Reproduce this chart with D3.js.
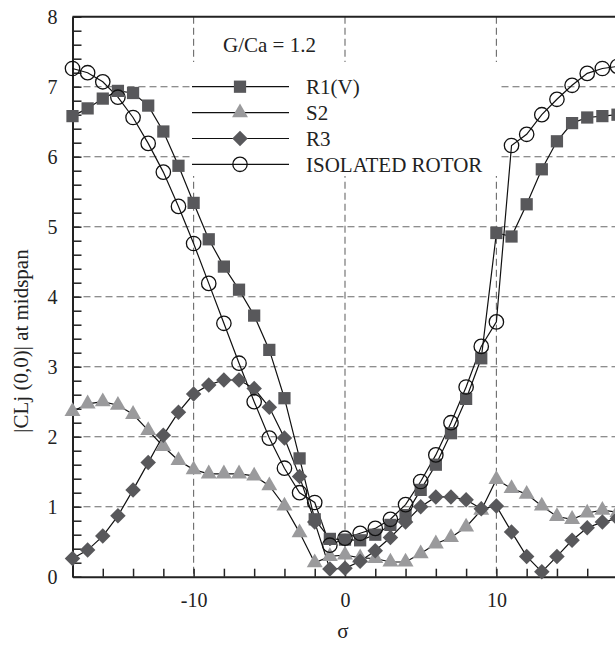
<!DOCTYPE html>
<html>
<head>
<meta charset="utf-8">
<script src="https://cdn.jsdelivr.net/npm/d3@7"></script>
<style>
  body { margin: 0; background: #fff; }
  text { font-family: "Liberation Serif", "Times New Roman", serif; fill: #222; }
</style>
</head>
<body>
<svg></svg>
<script>
var width = 615;
var height = 647;

// sigma positions (one point per unit)
var sigma = [-18,-17,-16,-15,-14,-13,-12,-11,-10,-9,-8,-7,-6,-5,-4,-3,-2,-1,0,
             1,2,3,4,5,6,7,8,9,10,11,12,13,14,15,16,17,18];

var r1v = [6.58,6.69,6.83,6.94,6.91,6.73,6.36,5.87,5.34,4.82,4.43,4.10,3.73,3.24,2.55,1.69,0.82,0.54,0.53,
           0.52,0.60,0.74,0.88,1.24,1.60,2.05,2.54,3.12,4.91,4.86,5.32,5.82,6.22,6.48,6.56,6.58,6.60];
var s2 = [2.36,2.47,2.50,2.45,2.32,2.09,1.86,1.66,1.53,1.47,1.47,1.47,1.44,1.30,1.01,0.63,0.20,0.29,0.31,
          0.27,0.26,0.21,0.21,0.33,0.47,0.56,0.71,0.95,1.39,1.26,1.18,1.01,0.86,0.82,0.91,0.95,0.92];
var r3 = [0.26,0.38,0.58,0.87,1.24,1.63,2.02,2.35,2.61,2.74,2.81,2.81,2.69,2.42,1.98,1.43,0.78,0.11,0.12,
          0.22,0.37,0.56,0.78,1.00,1.14,1.14,1.10,0.97,1.01,0.64,0.29,0.07,0.29,0.52,0.70,0.78,0.83];
var isolated = [7.26,7.20,7.07,6.85,6.56,6.19,5.78,5.29,4.76,4.19,3.62,3.05,2.50,1.98,1.55,1.20,1.06,0.45,0.55,
                0.62,0.69,0.82,1.03,1.36,1.74,2.20,2.71,3.29,3.64,6.16,6.32,6.60,6.82,7.02,7.19,7.26,7.29];

var seriesNames = ["R1(V)", "S2", "R3", "ISOLATED ROTOR"];
var xLabels = [-10, 0, 10];
var yLabels = [0, 1, 2, 3, 4, 5, 6, 7, 8];

var svg = d3.select("svg")
            .attr("width", width)
            .attr("height", height);

var plotLeft = 72.5, plotRight = 617.5, plotTop = 16.7, plotBottom = 576.7;

var x = d3.scaleLinear().domain([-18, 18]).range([plotLeft, plotRight]);
var y = d3.scaleLinear().domain([0, 8]).range([plotBottom, plotTop]);

// dashed grid
svg.append("g")
  .selectAll("line")
  .data(yLabels.filter(d => d > 0 && d < 8))
  .enter()
  .append("line")
  .attr("x1", plotLeft).attr("x2", plotRight)
  .attr("y1", d => y(d)).attr("y2", d => y(d))
  .attr("stroke", "#6a6a6a").attr("stroke-width", 1.1)
  .attr("stroke-dasharray", "7,4");

svg.append("g")
  .selectAll("line")
  .data(xLabels)
  .enter()
  .append("line")
  .attr("x1", d => x(d)).attr("x2", d => x(d))
  .attr("y1", plotTop).attr("y2", plotBottom)
  .attr("stroke", "#6a6a6a").attr("stroke-width", 1.1)
  .attr("stroke-dasharray", "7,4");

// axes, ticks inside
var yAxis = d3.axisLeft(y)
  .tickValues(d3.range(0, 8.001, 0.2))
  .tickSize(-9)
  .tickSizeOuter(0)
  .tickPadding(15)
  .tickFormat(d => Math.abs(d - Math.round(d)) < 1e-6 && yLabels.indexOf(Math.round(d)) >= 0 ? Math.round(d) : "");

var xAxis = d3.axisBottom(x)
  .tickValues(d3.range(-18, 18.001, 2))
  .tickSize(-8)
  .tickSizeOuter(0)
  .tickPadding(16)
  .tickFormat(d => xLabels.indexOf(d) >= 0 ? d : "");

var gy = svg.append("g").attr("transform", "translate(" + plotLeft + ",0)").call(yAxis);
var gx = svg.append("g").attr("transform", "translate(0," + plotBottom + ")").call(xAxis);

[gx, gy].forEach(g => {
  g.select(".domain").attr("stroke", "#222").attr("stroke-width", 2);
  g.selectAll(".tick line").attr("stroke", "#222").attr("stroke-width", 1.5);
  g.selectAll(".tick text").attr("font-size", 20).attr("font-family", "Liberation Serif").attr("fill", "#222");
});

// top / right frame
svg.append("line").attr("x1", plotLeft).attr("x2", plotRight).attr("y1", plotTop).attr("y2", plotTop)
  .attr("stroke", "#222").attr("stroke-width", 2);
svg.append("line").attr("x1", plotRight).attr("x2", plotRight).attr("y1", plotTop).attr("y2", plotBottom)
  .attr("stroke", "#222").attr("stroke-width", 2);

// legend box (covers grid)
svg.append("rect").attr("x", 190).attr("y", 62).attr("width", 308).attr("height", 114).attr("fill", "#fff");

svg.append("text").attr("x", 223).attr("y", 52).attr("font-size", 21).text("G/Ca = 1.2");

var line = d3.line().x((d, i) => x(sigma[i])).y(d => y(d));

var squareSym = d3.symbol().type(d3.symbolSquare).size(150);
var triSym = d3.symbol().type(d3.symbolTriangle).size(110);
var diamondSym = d3.symbol().type(d3.symbolSquare).size(120);

var series = [
  {name: seriesNames[0], values: r1v, kind: "square"},
  {name: seriesNames[1], values: s2, kind: "triangle"},
  {name: seriesNames[2], values: r3, kind: "diamond"},
  {name: seriesNames[3], values: isolated, kind: "circle"}
];

function drawMarker(g, kind) {
  if (kind === "square") {
    g.append("path").attr("d", squareSym()).attr("fill", "#58585b");
  } else if (kind === "triangle") {
    g.append("path").attr("d", triSym()).attr("fill", "#9a9a9c");
  } else if (kind === "diamond") {
    g.append("path").attr("d", diamondSym()).attr("fill", "#58585b").attr("transform", "rotate(45)");
  } else {
    g.append("circle").attr("r", 7.2).attr("fill", "none").attr("stroke", "#111").attr("stroke-width", 1.3);
  }
}

series.forEach(s => {
  svg.append("path")
    .datum(s.values)
    .attr("d", line)
    .attr("fill", "none")
    .attr("stroke", "#111")
    .attr("stroke-width", 1.2);
});

series.forEach(s => {
  svg.append("g")
    .selectAll("g")
    .data(s.values)
    .enter()
    .append("g")
    .attr("transform", (d, i) => "translate(" + x(sigma[i]) + "," + y(d) + ")")
    .each(function() { drawMarker(d3.select(this), s.kind); });
});

// legend
var rowY = [86.7, 112.7, 138.5, 164.3];
series.forEach((s, i) => {
  svg.append("line").attr("x1", 192).attr("x2", 289).attr("y1", rowY[i]).attr("y2", rowY[i])
    .attr("stroke", "#111").attr("stroke-width", 1.2);
  var g = svg.append("g").attr("transform", "translate(240," + rowY[i] + ")");
  drawMarker(g, s.kind);
  svg.append("text").attr("x", 306).attr("y", rowY[i]).attr("dy", "0.35em")
    .attr("font-size", 21).text(s.name);
});

// axis titles
svg.append("text").attr("x", 343).attr("y", 638).attr("text-anchor", "middle")
  .attr("font-size", 21).text("σ");
svg.append("text").attr("transform", "translate(28,341) rotate(-90)").attr("text-anchor", "middle")
  .attr("font-size", 21).text("|CLj (0,0)| at midspan");
</script>
</body>
</html>
